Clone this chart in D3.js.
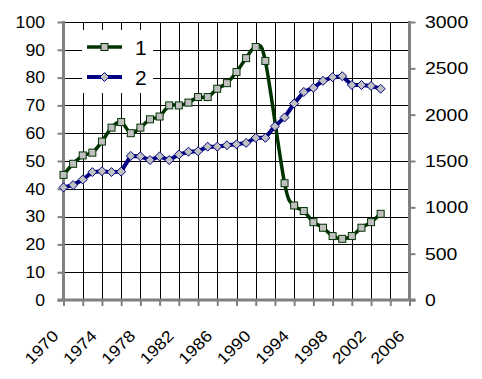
<!DOCTYPE html>
<html>
<head>
<meta charset="utf-8">
<script src="https://cdn.jsdelivr.net/npm/d3@7"></script>
<style>
  html, body { margin: 0; padding: 0; background: #fff; }
  svg text { font-family: "Liberation Sans", Arial, sans-serif; fill: #000; }
</style>
</head>
<body>
<svg id="chart" width="482" height="379"></svg>
<script>
// data, one value per year, 1992 missing in series 1
const years = d3.range(1970, 2004);
const series1 = [45, 49, 52, 53, 57, 62, 64, 60, 62, 65, 66, 70, 70, 71, 73, 73, 76, 78, 82, 87,
                 91, 86, null, 42, 34, 32, 28, 26, 23, 22, 23, 26, 28, 31];
const series2 = [1215, 1240, 1300, 1380, 1390, 1380, 1385, 1555, 1550, 1510, 1550, 1510, 1570, 1600,
                 1605, 1655, 1655, 1670, 1680, 1695, 1750, 1750, 1875, 1970, 2120, 2245, 2290, 2365,
                 2405, 2415, 2320, 2320, 2310, 2280];
const xTicks = d3.range(1970, 2007, 2);
const xLabels = d3.range(1970, 2007, 4);
const leftTicks = d3.range(0, 101, 10);
const rightTicks = d3.range(0, 3001, 500);
const legendNames = ["1", "2"];

const plotL = 63.5, plotR = 409.5, plotT = 22, plotB = 300;
const grey = "#808080";

const svg = d3.select("#chart");

const x = d3.scaleLinear().domain([1970, 2006]).range([plotL, plotR]);
const yL = d3.scaleLinear().domain([0, 100]).range([plotB, plotT]);
const yR = d3.scaleLinear().domain([0, 3000]).range([plotB, plotT]);

// grid
svg.append("g").selectAll("line").data(leftTicks).join("line")
  .attr("x1", plotL).attr("x2", plotR)
  .attr("y1", d => Math.round(yL(d)) + 0.5).attr("y2", d => Math.round(yL(d)) + 0.5)
  .attr("stroke", "#000").attr("stroke-width", 1);
svg.append("g").selectAll("line").data(xTicks).join("line")
  .attr("x1", d => Math.round(x(d)) + 0.5).attr("x2", d => Math.round(x(d)) + 0.5)
  .attr("y1", plotT).attr("y2", plotB)
  .attr("stroke", "#000").attr("stroke-width", 1);

// axes
function styleAxis(g) {
  g.select(".domain").remove();
  g.selectAll(".tick line").attr("stroke", grey).attr("stroke-width", 2);
  g.selectAll(".tick text").remove();
}
svg.append("g").attr("transform", `translate(${plotL},0)`)
  .call(d3.axisLeft(yL).tickValues(leftTicks).tickSize(6)).call(styleAxis);
svg.append("g").attr("transform", `translate(${plotR},0)`)
  .call(d3.axisRight(yR).tickValues(rightTicks).tickSize(6)).call(styleAxis);
svg.append("g").attr("transform", `translate(0,${plotB})`)
  .call(d3.axisBottom(x).tickValues(xTicks).tickSize(6)).call(styleAxis);

svg.append("line").attr("x1", plotL).attr("x2", plotL).attr("y1", plotT - 1).attr("y2", plotB + 1)
  .attr("stroke", grey).attr("stroke-width", 3);
svg.append("line").attr("x1", plotR).attr("x2", plotR).attr("y1", plotT - 1).attr("y2", plotB + 1)
  .attr("stroke", grey).attr("stroke-width", 3);
svg.append("line").attr("x1", plotL - 6).attr("x2", plotR + 6).attr("y1", plotB).attr("y2", plotB)
  .attr("stroke", grey).attr("stroke-width", 3);

// tick labels
svg.append("g").selectAll("text").data(leftTicks).join("text")
  .attr("x", 45).attr("y", d => yL(d)).attr("dy", "0.36em")
  .attr("text-anchor", "end").attr("font-size", 16)
  .attr("textLength", d => String(d).length * 9.8).attr("lengthAdjust", "spacingAndGlyphs")
  .text(d => d);
svg.append("g").selectAll("text").data(rightTicks).join("text")
  .attr("x", 425).attr("y", d => yR(d)).attr("dy", "0.36em")
  .attr("font-size", 17)
  .attr("textLength", d => String(d).length * 10.8).attr("lengthAdjust", "spacingAndGlyphs")
  .text(d => d);
svg.append("g").selectAll("text").data(xLabels).join("text")
  .attr("transform", d => `translate(${x(d) - 4},337) rotate(-45)`)
  .attr("text-anchor", "end").attr("font-size", 16)
  .attr("textLength", 40).attr("lengthAdjust", "spacingAndGlyphs")
  .text(d => d);

// legend
const colors = ["#003300", "#000080"];
const legend = svg.append("g");
legend.append("rect").attr("x", 82).attr("y", 30).attr("width", 71).attr("height", 63).attr("fill", "#fff");
const rows = legend.selectAll("g").data(legendNames).join("g")
  .attr("transform", (d, i) => `translate(0,${47 + i * 30})`);
rows.append("line").attr("x1", 87).attr("x2", 122)
  .attr("stroke", (d, i) => colors[i]).attr("stroke-width", (d, i) => i ? 4 : 3.5);
rows.append("text").attr("x", 135).attr("dy", "0.36em").attr("font-size", 21).text(d => d);

// series
const pts1 = years.map((yr, i) => [yr, series1[i]]).filter(p => p[1] != null);
const pts2 = years.map((yr, i) => [yr, series2[i]]);

svg.append("path").datum(pts1)
  .attr("d", d3.line().x(d => x(d[0])).y(d => yL(d[1])).curve(d3.curveCatmullRom.alpha(0)))
  .attr("fill", "none").attr("stroke", colors[0]).attr("stroke-width", 3.5);

const sq = 7;
function squares(sel) {
  sel.append("rect").attr("x", -sq / 2).attr("y", -sq / 2).attr("width", sq).attr("height", sq)
    .attr("fill", "#c0c0c0").attr("stroke", colors[0]).attr("stroke-width", 1);
}
svg.append("g").selectAll("g").data(pts1).join("g")
  .attr("transform", d => `translate(${x(d[0])},${yL(d[1])})`).call(squares);

svg.append("path").datum(pts2)
  .attr("d", d3.line().x(d => x(d[0])).y(d => yR(d[1])))
  .attr("fill", "none").attr("stroke", colors[1]).attr("stroke-width", 4);

const dm = 4.5;
function diamonds(sel) {
  sel.append("path").attr("d", `M0,${-dm}L${dm},0L0,${dm}L${-dm},0Z`)
    .attr("fill", "#c0c0c0").attr("stroke", colors[1]).attr("stroke-width", 1);
}
svg.append("g").selectAll("g").data(pts2).join("g")
  .attr("transform", d => `translate(${x(d[0])},${yR(d[1])})`).call(diamonds);

// legend markers
legend.append("g").attr("transform", "translate(104.5,47)").call(squares);
legend.append("g").attr("transform", "translate(104.5,77)").call(diamonds);
</script>
</body>
</html>
